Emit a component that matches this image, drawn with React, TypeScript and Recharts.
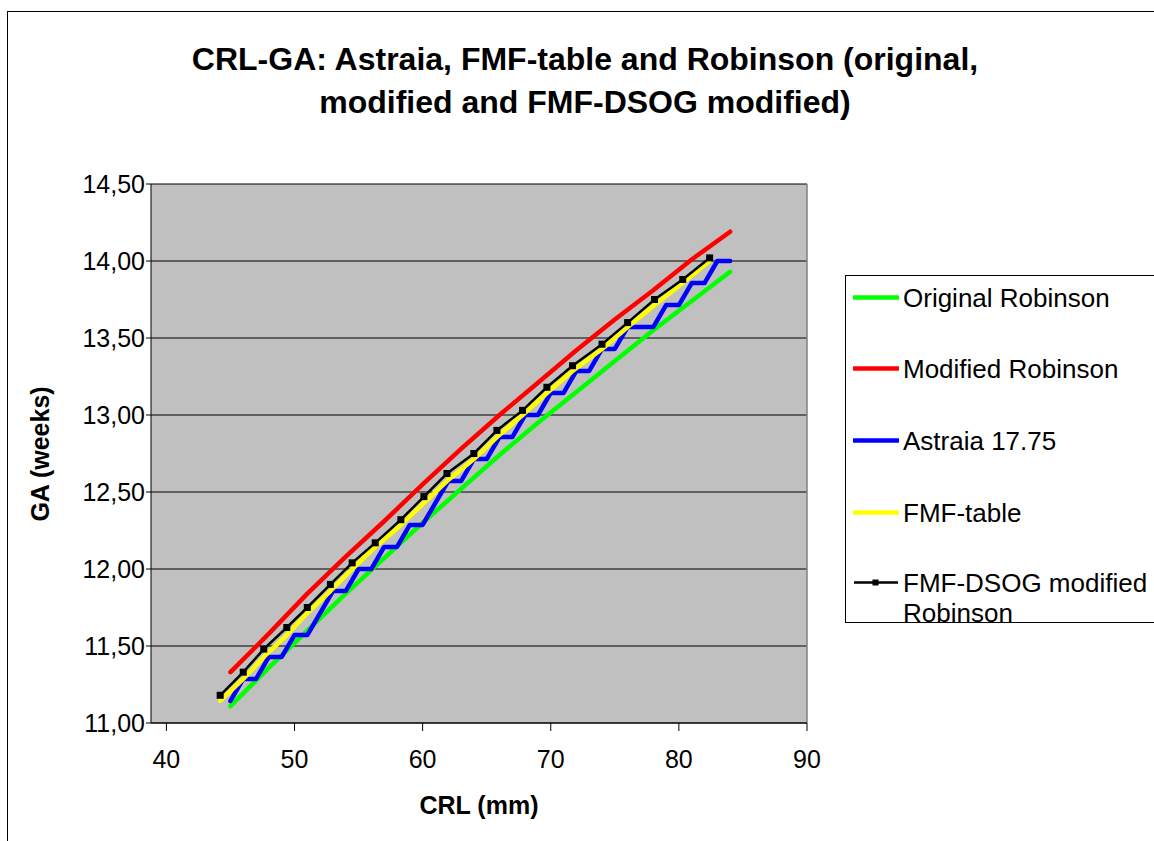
import React from "react";
import { LineChart, Line, XAxis, YAxis, CartesianGrid, ReferenceLine } from "recharts";

// CRL (mm) sample points for the Robinson curves
const crlRobinson = [45, 48, 51, 54, 57, 60, 63, 66, 69, 72, 75, 78, 81, 84];
const gaOriginalRobinson = [11.11, 11.36, 11.6, 11.84, 12.07, 12.3, 12.52, 12.74, 12.95, 13.15, 13.35, 13.55, 13.74, 13.93];
const gaModifiedRobinson = [11.33, 11.58, 11.84, 12.08, 12.31, 12.55, 12.78, 13.0, 13.21, 13.42, 13.62, 13.81, 14.01, 14.19];

// Astraia 17.75 (one value per mm, whole days)
const crlAstraia = [45, 46, 47, 48, 49, 50, 51, 52, 53, 54, 55, 56, 57, 58, 59, 60, 61, 62, 63, 64, 65, 66, 67, 68, 69, 70, 71, 72, 73, 74, 75, 76, 77, 78, 79, 80, 81, 82, 83, 84];
const gaAstraia = [11.143, 11.286, 11.286, 11.429, 11.429, 11.571, 11.571, 11.714, 11.857, 11.857, 12.0, 12.0, 12.143, 12.143, 12.286, 12.286, 12.429, 12.571, 12.571, 12.714, 12.714, 12.857, 12.857, 13.0, 13.0, 13.143, 13.143, 13.286, 13.286, 13.429, 13.429, 13.571, 13.571, 13.571, 13.714, 13.714, 13.857, 13.857, 14.0, 14.0];

// FMF table / FMF-DSOG modified Robinson
const crlFmf = [44.2, 46.0, 47.6, 49.4, 51.0, 52.8, 54.5, 56.3, 58.3, 60.1, 61.9, 64.0, 65.8, 67.8, 69.7, 71.7, 74.0, 76.0, 78.1, 80.3, 82.4];
const gaFmfTable = [11.143, 11.286, 11.429, 11.571, 11.714, 11.857, 12.0, 12.143, 12.286, 12.429, 12.571, 12.714, 12.857, 13.0, 13.143, 13.286, 13.429, 13.571, 13.714, 13.857, 14.0];
const gaFmfDsog = [11.18, 11.33, 11.48, 11.62, 11.75, 11.9, 12.04, 12.17, 12.32, 12.47, 12.62, 12.75, 12.9, 13.03, 13.18, 13.32, 13.46, 13.6, 13.75, 13.88, 14.02];

const xTicks = [40, 50, 60, 70, 80, 90];
const yTicks = [11, 11.5, 12, 12.5, 13, 13.5, 14, 14.5];

const titleLines = ["CRL-GA: Astraia, FMF-table and Robinson (original,", "modified and FMF-DSOG modified)"];
const xTitle = "CRL (mm)";
const yTitle = "GA (weeks)";

const seriesNames = ["Original Robinson", "Modified Robinson", "Astraia 17.75", "FMF-table", "FMF-DSOG modified Robinson"];
const seriesColors = ["#00FF00", "#FF0000", "#0000FF", "#FFFF00", "#000000"];

const zip = (xs: number[], ys: number[]) => xs.map((x, i) => ({ crl: x, ga: ys[i] }));

const dataOriginal = zip(crlRobinson, gaOriginalRobinson);
const dataModified = zip(crlRobinson, gaModifiedRobinson);
const dataAstraia = zip(crlAstraia, gaAstraia);
const dataFmfTable = zip(crlFmf, gaFmfTable);
const dataFmfDsog = zip(crlFmf, gaFmfDsog);

const FONT = '"Liberation Sans", Arial, Helvetica, sans-serif';

const SquareDot = (props: any) => {
  const { cx, cy } = props;
  if (cx == null || cy == null) return null;
  return <rect x={cx - 3.5} y={cy - 3.5} width={7} height={7} fill="#000" />;
};

const fmt = (v: number) => v.toFixed(2).replace(".", ",");

export default function App() {
  const legendRows = [
    { top: 297, idx: 0 },
    { top: 368, idx: 1 },
    { top: 440, idx: 2 },
    { top: 512, idx: 3 },
    { top: 582, idx: 4 },
  ];
  return (
    <div style={{ position: "absolute", left: 0, top: 0, width: 1154, height: 841, overflow: "hidden", background: "#fff", fontFamily: FONT }}>
      <div style={{ position: "absolute", left: 7, top: 11, width: 1200, height: 900, borderTop: "1.5px solid #000", borderLeft: "1.5px solid #000" }} />
      {titleLines.map((t, i) => (
        <div key={i} style={{ position: "absolute", left: 0, width: 1170, top: (i === 0 ? 59 : 102) - 16, textAlign: "center", fontSize: 32, lineHeight: "32px", fontWeight: "bold", color: "#000", whiteSpace: "nowrap" }}>{t}</div>
      ))}
      <div style={{ position: "absolute", left: 0, top: 0 }}>
        <LineChart width={1154} height={841} margin={{ top: 184, right: 347, bottom: 78, left: 91 }}>
          <CartesianGrid vertical={false} horizontal={true} fill="#C0C0C0" stroke="#000" strokeOpacity={1} />
          <XAxis
            type="number"
            dataKey="crl"
            domain={[38.8, 90]}
            ticks={xTicks}
            allowDataOverflow
            height={40}
            stroke="#000"
            tickSize={8}
            tickMargin={19}
            tick={{ fill: "#000", fontSize: 25, fontFamily: FONT }}
            interval={0}
          />
          <YAxis
            type="number"
            domain={[11, 14.5]}
            ticks={yTicks}
            width={60}
            stroke="#000"
            tickSize={5}
            tickMargin={1}
            tickFormatter={fmt}
            tick={{ fill: "#000", fontSize: 25, fontFamily: FONT }}
            interval={0}
            allowDataOverflow
          />
          <ReferenceLine x={90} stroke="#808080" strokeWidth={1.5} />
          <Line data={dataOriginal} dataKey="ga" type="linear" stroke={seriesColors[0]} strokeWidth={4.5} dot={false} isAnimationActive={false} strokeLinecap="round" strokeLinejoin="round" />
          <Line data={dataModified} dataKey="ga" type="linear" stroke={seriesColors[1]} strokeWidth={4.5} dot={false} isAnimationActive={false} strokeLinecap="round" strokeLinejoin="round" />
          <Line data={dataAstraia} dataKey="ga" type="linear" stroke={seriesColors[2]} strokeWidth={4.5} dot={false} isAnimationActive={false} strokeLinecap="round" strokeLinejoin="round" />
          <Line data={dataFmfTable} dataKey="ga" type="linear" stroke={seriesColors[3]} strokeWidth={4.5} dot={false} isAnimationActive={false} strokeLinecap="round" strokeLinejoin="round" />
          <Line data={dataFmfDsog} dataKey="ga" type="linear" stroke={seriesColors[4]} strokeWidth={2.5} dot={<SquareDot />} isAnimationActive={false} />
        </LineChart>
      </div>
      <div style={{ position: "absolute", left: 0, width: 80, top: 454 - 14, height: 28, display: "flex", alignItems: "center", justifyContent: "center" }}>
        <div style={{ transform: "rotate(-90deg)", fontSize: 25, fontWeight: "bold", whiteSpace: "nowrap", lineHeight: "28px" }}>{yTitle}</div>
      </div>
      <div style={{ position: "absolute", left: 151, width: 656, top: 805 - 14, textAlign: "center", fontSize: 25, fontWeight: "bold", lineHeight: "28px" }}>{xTitle}</div>
      <div style={{ position: "absolute", left: 845, top: 275, width: 400, height: 346, border: "1px solid #000", background: "#fff" }} />
      {legendRows.map((r) => (
        <div key={r.idx} style={{ position: "absolute", left: 853, top: r.top - 14.5 }}>
          <svg width={46} height={29} style={{ position: "absolute", left: 0, top: 0 }}>
            <line x1={1} y1={14.5} x2={45} y2={14.5} stroke={seriesColors[r.idx]} strokeWidth={r.idx === 4 ? 2.5 : 4.5} strokeLinecap={r.idx === 4 ? "butt" : "round"} />
            {r.idx === 4 && <rect x={19.5} y={11.5} width={6} height={6} fill="#000" />}
          </svg>
          <div style={{ position: "absolute", left: 50, top: 0, fontSize: 26, lineHeight: "30px", whiteSpace: "nowrap", color: "#000" }}>
            {r.idx === 4 ? (<>{"FMF-DSOG modified"}<br />{"Robinson"}</>) : seriesNames[r.idx]}
          </div>
        </div>
      ))}
    </div>
  );
}
